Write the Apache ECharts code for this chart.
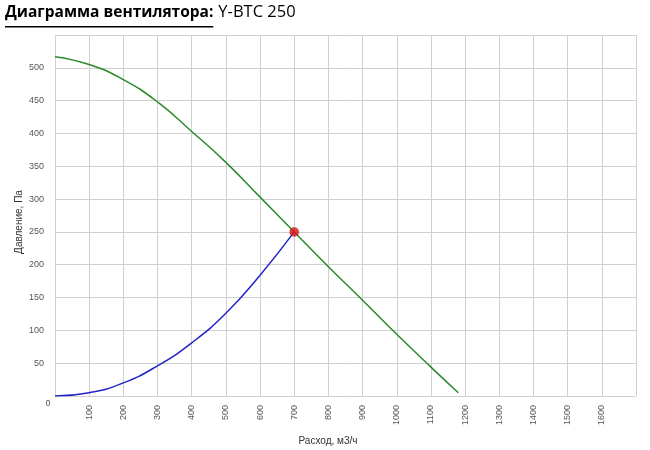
<!DOCTYPE html>
<html><head><meta charset="utf-8">
<script src="https://cdn.jsdelivr.net/npm/echarts@6/dist/echarts.min.js"></script>
<style>html,body{margin:0;padding:0;background:#fff}#c{width:650px;height:450px}</style>
</head><body><div id="c"></div>
<script>
// Fan curve (flow m3/h, pressure Pa)
var fanFlow = [0, 100, 200, 300, 400, 500, 600, 700, 800, 900, 1000, 1100, 1180];
var fanPressure = [517, 505, 482, 448, 403, 356, 303, 250, 197, 146, 94, 44, 5];
// System curve
var sysFlow = [0, 100, 200, 300, 400, 500, 600, 700];
var sysPressure = [0, 5, 20, 46, 81, 126, 184, 250];
// Operating point
var opFlow = [700];
var opPressure = [250];

var titleBold = 'Диаграмма вентилятора:';
var titleNormal = 'Y-BTC 250';
var yTitle = 'Давление, Па';
var xTitle = 'Расход, м3/ч';

function pairs(a, b) { return a.map(function (v, i) { return [v, b[i]]; }); }

var chart = echarts.init(document.getElementById('c'), null, {renderer: 'canvas'});
var labelColor = '#555';
var option = {
  animation: false,
  grid: {left: 55, right: 14, top: 35, bottom: 54, containLabel: false},
  xAxis: {
    type: 'value', min: 0, max: 1700, interval: 100,
    axisLine: {show: false}, axisTick: {show: false},
    splitLine: {show: true, lineStyle: {color: '#d0d0d0', width: 1}},
    axisLabel: {
      rotate: 90, margin: 9, color: labelColor, fontSize: 9, fontFamily: 'Liberation Sans',
      formatter: function (v) { return (v === 0 || v === 1700) ? '' : String(v); }
    }
  },
  yAxis: {
    type: 'value', min: 0, max: 550, interval: 50,
    axisLine: {show: false}, axisTick: {show: false},
    splitLine: {show: true, lineStyle: {color: '#d0d0d0', width: 1}},
    axisLabel: {
      margin: 11, color: labelColor, fontSize: 9, fontFamily: 'Liberation Sans',
      formatter: function (v) { return (v === 0 || v === 550) ? '' : String(v); }
    }
  },
  series: [
    {type: 'line', data: pairs(fanFlow, fanPressure), smooth: true, symbol: 'none',
     lineStyle: {color: '#2a8a2a', width: 1.5}, z: 2},
    {type: 'line', data: pairs(sysFlow, sysPressure), smooth: true, symbol: 'none',
     lineStyle: {color: '#2323c8', width: 1.5}, z: 2},
    {type: 'scatter', data: pairs(opFlow, opPressure), symbol: 'circle', symbolSize: 9,
     itemStyle: {color: '#dd1111', borderColor: '#a01010', borderWidth: 0.5}, z: 5}
  ]
};
chart.setOption(option);

// measure bold title width for underline
var cv = document.createElement('canvas').getContext('2d');
var titleFont = 'bold 15.5px "Open Sans"';
cv.font = titleFont;
var wBold = cv.measureText(titleBold).width;
var origin = chart.convertToPixel({gridIndex: 0}, [0, 0]);

chart.setOption({
  graphic: [
    {type: 'text', left: 5, top: 5, style: {text: titleBold, font: titleFont, fill: '#000'}},
    {type: 'rect', shape: {x: 5, y: 26, width: wBold, height: 1.6}, style: {fill: '#000'}},
    {type: 'text', left: 5 + wBold + 5, top: 4, style: {text: titleNormal, font: '16.5px "Open Sans"', fill: '#000'}},
    {type: 'text', x: origin[0] - 7, y: origin[1] + 8, style: {text: '0', font: '9px "Liberation Sans"', fill: labelColor, align: 'center', verticalAlign: 'middle'}},
    {type: 'text', x: 19, y: 222, rotation: Math.PI / 2, style: {text: yTitle, font: '10px "Liberation Sans"', fill: '#333', align: 'center', verticalAlign: 'middle'}},
    {type: 'text', x: 328, y: 441, style: {text: xTitle, font: '10px "Liberation Sans"', fill: '#333', align: 'center', verticalAlign: 'middle'}}
  ]
});
</script></body></html>
